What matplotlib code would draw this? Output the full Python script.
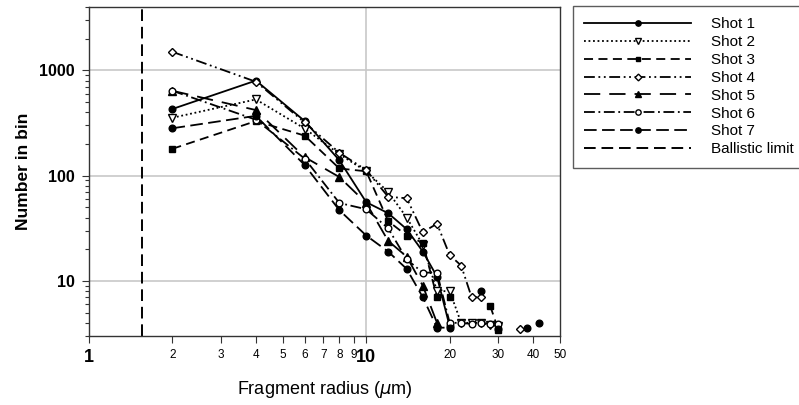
import numpy as np
import matplotlib
matplotlib.use("Agg")
from matplotlib import pyplot as plt
from matplotlib.ticker import FixedLocator, FixedFormatter, NullFormatter

plt.rcParams['font.family'] = ['Liberation Sans', 'DejaVu Sans']

nan = np.nan

# fragment counts per radius bin (um)
shot1_r = [2, 4, 6, 8, 10, 12, 14, 16, 18, 20]
shot1_n = [430, 800, 330, 140, 56, 44, 31, 19, 11, 3.7]

shot2_r = [2, 4, 6, 8, 10, 12, 14, 16, 18, 20, 22, 24, 26, 28, 30]
shot2_n = [355, 530, 280, 160, 110, 70, 40, 22, 8, 8, 4, 4, 4, 3.8, 3.7]

shot3_r = [2, 4, 6, 8, 10, 12, 14, 16, 18, 20, 22, 28, 30]
shot3_n = [180, 330, 240, 117, 110, 37, 27, 23, 7, 7, nan, 5.8, 3.4]

shot4_r = [2, 4, 6, 8, 10, 12, 14, 16, 18, 20, 22, 24, 26, 28, 36]
shot4_n = [1500, 780, 320, 165, 113, 63, 61, 29, 35, 17.6, 14, 7, 7, nan, 3.5]

shot5_r = [2, 4, 6, 8, 10, 12, 14, 16, 18]
shot5_n = [640, 420, 150, 97, 55, 24, 17, 9, 4]

shot6_r = [2, 4, 6, 8, 10, 12, 14, 16, 18, 20, 22, 24, 26, 28, 30]
shot6_n = [640, 340, 145, 55, 48, 31.6, 16, 12, 12, 4, 4, 3.9, 4, 3.9, 3.9]

shot7_r = [2, 4, 6, 8, 10, 12, 14, 16, 18, 20, 22, 26, 28, 30, 32, 38, 40, 42]
shot7_n = [282, 370, 126, 47, 27, 19, 13, 7, 3.6, 3.6, nan, 8, nan, 3.5, nan, 3.6, nan, 4]

ballistic_limit = 1.55

fig = plt.figure(figsize=(7.99, 4.05), dpi=100)
ax = fig.add_axes([89 / 799, 1 - 336 / 405, 471 / 799, 329 / 405])

lw = 1.3
ms = 4.8
ax.plot(shot1_r, shot1_n, color='black', lw=lw, ls='-', marker='o', ms=ms,
        mfc='black', label='Shot 1')
ax.plot(shot2_r, shot2_n, color='black', lw=lw, ls=(0, (1, 1.5)), marker='v', ms=ms + 0.5,
        mfc='white', label='Shot 2')
ax.plot(shot3_r, shot3_n, color='black', lw=lw, ls=(0, (5, 3)), marker='s', ms=ms - 0.5,
        mfc='black', label='Shot 3')
ax.plot(shot4_r, shot4_n, color='black', lw=lw, ls=(0, (6, 2, 1, 2, 1, 2)), marker='D', ms=ms - 0.5,
        mfc='white', label='Shot 4')
ax.plot(shot5_r, shot5_n, color='black', lw=lw, ls=(0, (9, 5)), marker='^', ms=ms + 0.5,
        mfc='black', label='Shot 5')
ax.plot(shot6_r, shot6_n, color='black', lw=lw, ls=(0, (6, 2, 1, 2)), marker='o', ms=ms,
        mfc='white', label='Shot 6')
ax.plot(shot7_r, shot7_n, color='black', lw=lw, ls=(0, (7, 3)), marker='o', ms=ms,
        mfc='black', label='Shot 7')
ax.axvline(ballistic_limit, color='black', lw=1.4, ls=(0, (6, 3)), label='Ballistic limit')

ax.set_xscale('log')
ax.set_yscale('log')
ax.set_xlim(1, 50)
ax.set_ylim(3, 4000)

# x ticks: bold decades, small plain labels in between
ax.xaxis.set_major_locator(FixedLocator([1, 10]))
ax.xaxis.set_major_formatter(FixedFormatter(['1', '10']))
minor_x = [2, 3, 4, 5, 6, 7, 8, 9, 20, 30, 40, 50]
ax.xaxis.set_minor_locator(FixedLocator(minor_x))
ax.xaxis.set_minor_formatter(FixedFormatter([str(v) for v in minor_x]))
ax.tick_params(axis='x', which='major', labelsize=13, length=5, pad=4)
ax.tick_params(axis='x', which='minor', labelsize=8.5, length=5, pad=4)
for t in ax.get_xticklabels():
    t.set_fontweight('bold')

ax.yaxis.set_major_locator(FixedLocator([10, 100, 1000]))
ax.yaxis.set_major_formatter(FixedFormatter(['10', '100', '1000']))
minor_y = [3, 4, 5, 6, 7, 8, 9, 20, 30, 40, 50, 60, 70, 80, 90,
           200, 300, 400, 500, 600, 700, 800, 900, 2000, 3000, 4000]
ax.yaxis.set_minor_locator(FixedLocator(minor_y))
ax.yaxis.set_minor_formatter(NullFormatter())
ax.tick_params(axis='y', which='major', labelsize=11.5, length=5, pad=5)
ax.tick_params(axis='y', which='minor', length=3)
for t in ax.get_yticklabels():
    t.set_fontweight('bold')

ax.tick_params(which='both', direction='out', color='#333333', width=0.8)
ax.grid(True, which='major', color='#c8c8c8', lw=1.2)
ax.set_axisbelow(True)
for s in ax.spines.values():
    s.set_color('#333333')
    s.set_linewidth(1.0)

ax.set_ylabel('Number in bin', fontsize=12.5, fontweight='bold', labelpad=6)
ax.set_xlabel(r'Fragment radius ($\mu$m)', fontsize=13, labelpad=10)

leg = fig.legend(loc='upper left', bbox_to_anchor=(573 / 799, 1 - 6 / 405),
                 frameon=True, fancybox=False, edgecolor='#333333', fontsize=11,
                 handlelength=7.0, handletextpad=1.3, labelspacing=0.25,
                 borderpad=0.75, borderaxespad=0, markerscale=0.8)
leg.get_frame().set_linewidth(1.0)

fig.savefig('out.png', dpi=100)
